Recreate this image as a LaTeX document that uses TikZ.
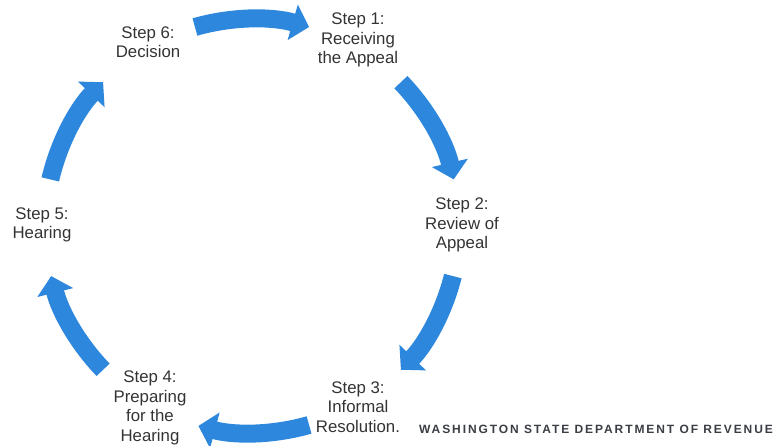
\documentclass[tikz,border=0pt]{standalone}
\usepackage{fontspec}
\setmainfont{Liberation Sans}
\newfontfamily\wmfont[LetterSpace=16]{Liberation Sans}
\usetikzlibrary{arrows.meta,calc}

\definecolor{cycleblue}{RGB}{45,135,220}
\definecolor{steptext}{RGB}{51,51,51}
\definecolor{wmgray}{RGB}{58,62,68}

\begin{document}
\begin{tikzpicture}[
    x=1pt, y=1pt,
    steplabel/.style={align=center, text=steptext, inner sep=0pt, font=\fontsize{16.8}{19.5}\selectfont},
    cyclearrow/.style={draw=cycleblue, line width=18pt, -{Triangle[width=36pt, length=17pt]}},
    wmark/.style={text=wmgray, inner sep=0pt, font=\wmfont\bfseries\fontsize{12}{14}\selectfont},
]

% Canvas
\useasboundingbox (0,0) rectangle (780,446);

% Ring radius
\pgfmathsetmacro{\R}{207}
\coordinate (ctr) at (252,220);

% === Step labels ===
\node[steplabel] (s1) at (358,406) {Step 1:\\Receiving\\the Appeal};
\node[steplabel] (s2) at (462,221) {Step 2:\\Review of\\Appeal};
\node[steplabel] (s3) at (358,39) {Step 3:\\Informal\\Resolution.};
\node[steplabel] (s4) at (150,38) {Step 4:\\Preparing\\for the\\Hearing};
\node[steplabel] (s5) at (42,221) {Step 5:\\Hearing};
\node[steplabel] (s6) at (148,404) {Step 6:\\Decision};

% === Cycle arrows (clockwise) ===
\draw[cyclearrow] ($(ctr)+(106:\R pt)$) arc[start angle=106, end angle=74, radius=\R pt];
\draw[cyclearrow] ($(ctr)+(44:\R pt)$) arc[start angle=44, end angle=13, radius=\R pt];
\draw[cyclearrow] ($(ctr)+(-14:\R pt)$) arc[start angle=-14, end angle=-44, radius=\R pt];
\draw[cyclearrow] ($(ctr)+(-74:\R pt)$) arc[start angle=-74, end angle=-105, radius=\R pt];
\draw[cyclearrow] ($(ctr)+(-136:\R pt)$) arc[start angle=-136, end angle=-166, radius=\R pt];
\draw[cyclearrow] ($(ctr)+(167:\R pt)$) arc[start angle=167, end angle=136, radius=\R pt];

% Watermark
\node[wmark] (wm) at (596,17) {WASHINGTON STATE DEPARTMENT OF REVENUE};

\end{tikzpicture}
\end{document}
